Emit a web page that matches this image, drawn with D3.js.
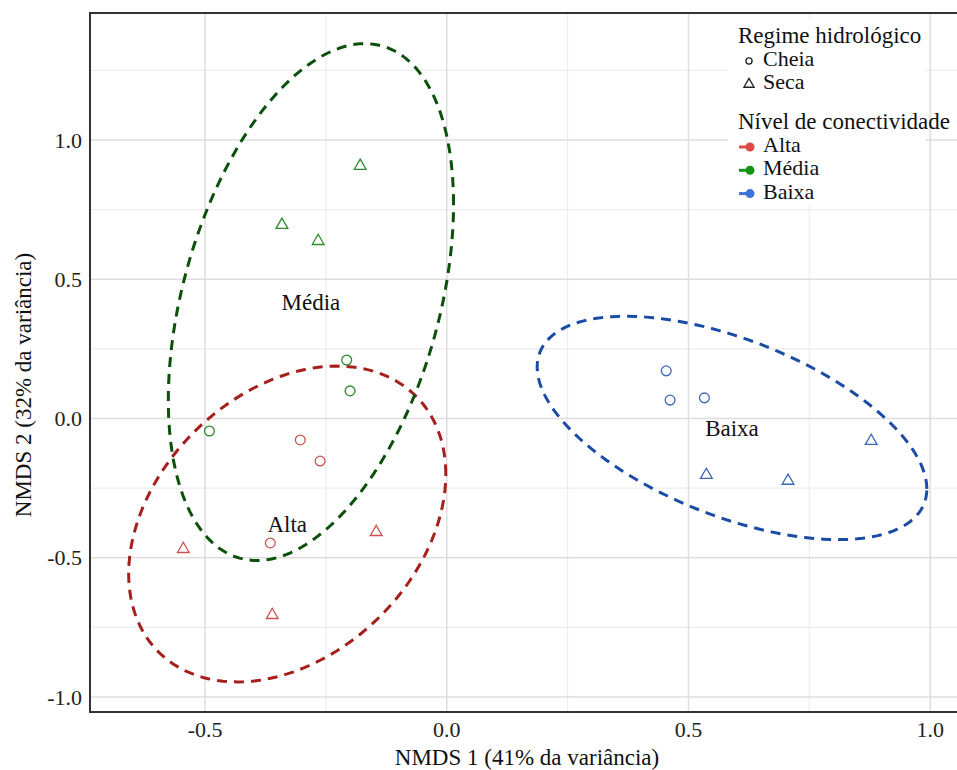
<!DOCTYPE html>
<html lang="pt">
<head>
    <meta charset="UTF-8">
    <title>NMDS</title>
    <style>
        body { margin: 0; background: #fff; }
    </style>
</head>
<body>
<script src="https://d3js.org/d3.v7.min.js"></script>
<script>
    // Scores NMDS
    const nmds1 = [-0.303, -0.262, -0.365, -0.545, -0.146, -0.361,
                   -0.207, -0.200, -0.491, -0.179, -0.341, -0.266,
                    0.454,  0.462,  0.533,  0.878,  0.537,  0.706];
    const nmds2 = [-0.077, -0.153, -0.447, -0.469, -0.408, -0.706,
                    0.210,  0.099, -0.045,  0.907,  0.695,  0.637,
                    0.171,  0.066,  0.074, -0.081, -0.203, -0.224];
    const nivel = ["Alta", "Alta", "Alta", "Alta", "Alta", "Alta",
                   "Média", "Média", "Média", "Média", "Média", "Média",
                   "Baixa", "Baixa", "Baixa", "Baixa", "Baixa", "Baixa"];
    const regime = ["Cheia", "Cheia", "Cheia", "Seca", "Seca", "Seca",
                    "Cheia", "Cheia", "Cheia", "Seca", "Seca", "Seca",
                    "Cheia", "Cheia", "Cheia", "Seca", "Seca", "Seca"];

    // Elipses (centro, desvios e correlação estimados)
    const niveis = ["Alta", "Média", "Baixa"];
    const elCx = [-0.330, -0.281, 0.590];
    const elCy = [-0.379, 0.418, -0.034];
    const elSx = [0.328, 0.295, 0.403];
    const elSy = [0.567, 0.928, 0.401];
    const elR = [0.315, 0.379, -0.546];

    const xTicks = [-0.5, 0.0, 0.5, 1.0];
    const yTicks = [-1.0, -0.5, 0.0, 0.5, 1.0];
    const xMinor = [-0.25, 0.25, 0.75];
    const yMinor = [-0.75, -0.25, 0.25, 0.75, 1.25];

    const pointColor = {"Alta": "#c9534f", "Média": "#2b8a2b", "Baixa": "#3d66b8"};
    const ellipseColor = {"Alta": "#a51f1c", "Média": "#0b500b", "Baixa": "#1a4ca6"};
    const keyColor = {"Alta": "#dc4b48", "Média": "#149414", "Baixa": "#3a74d8"};

    const serif = "'Liberation Serif', 'Times New Roman', 'DejaVu Serif', serif";
    const width = 957, height = 770;
    const panel = {left: 90, right: 965, top: 13, bottom: 712};

    const svg = d3.select("body").append("svg")
        .attr("width", width)
        .attr("height", height)
        .style("font-family", serif);

    const x = d3.scaleLinear().domain([-0.738, 1.072]).range([panel.left, panel.right]);
    const y = d3.scaleLinear().domain([-1.054, 1.456]).range([panel.bottom, panel.top]);

    // Grade
    const grid = svg.append("g");
    grid.selectAll(".vmin").data(xMinor).enter().append("line")
        .attr("x1", d => x(d)).attr("x2", d => x(d))
        .attr("y1", panel.top).attr("y2", panel.bottom)
        .attr("stroke", "#ececec").attr("stroke-width", 1.2);
    grid.selectAll(".hmin").data(yMinor).enter().append("line")
        .attr("x1", panel.left).attr("x2", panel.right)
        .attr("y1", d => y(d)).attr("y2", d => y(d))
        .attr("stroke", "#ececec").attr("stroke-width", 1.2);
    grid.selectAll(".vmaj").data(xTicks).enter().append("line")
        .attr("x1", d => x(d)).attr("x2", d => x(d))
        .attr("y1", panel.top).attr("y2", panel.bottom)
        .attr("stroke", "#dedede").attr("stroke-width", 1.5);
    grid.selectAll(".hmaj").data(yTicks).enter().append("line")
        .attr("x1", panel.left).attr("x2", panel.right)
        .attr("y1", d => y(d)).attr("y2", d => y(d))
        .attr("stroke", "#dedede").attr("stroke-width", 1.5);

    // Elipses
    const line = d3.line().x(d => x(d[0])).y(d => y(d[1])).curve(d3.curveLinearClosed);
    niveis.forEach((g, i) => {
        const pts = d3.range(0, 2 * Math.PI, Math.PI / 90).map(t => [
            elCx[i] + elSx[i] * Math.cos(t),
            elCy[i] + elSy[i] * (elR[i] * Math.cos(t) + Math.sqrt(1 - elR[i] * elR[i]) * Math.sin(t))
        ]);
        svg.append("path")
            .attr("d", line(pts))
            .attr("fill", "none")
            .attr("stroke", ellipseColor[g])
            .attr("stroke-width", 3)
            .attr("stroke-dasharray", "10,7");
    });

    // Pontos
    const idx = d3.range(nmds1.length);
    const tri = d3.symbol().type(d3.symbolTriangle).size(60);
    svg.selectAll(".pt").data(idx).enter().append("path")
        .attr("d", i => regime[i] === "Cheia" ? d3.symbol().type(d3.symbolCircle).size(75)() : tri())
        .attr("transform", i => "translate(" + x(nmds1[i]) + "," + y(nmds2[i]) + ")")
        .attr("fill", "none")
        .attr("stroke", i => pointColor[nivel[i]])
        .attr("stroke-width", 1.3);

    // Rótulos dos grupos
    svg.selectAll(".lab").data(niveis).enter().append("text")
        .attr("x", (d, i) => x(elCx[i]))
        .attr("y", (d, i) => y(elCy[i]))
        .attr("dy", "0.35em")
        .attr("text-anchor", "middle")
        .attr("fill", "#111")
        .style("font-size", "23px")
        .text(d => d);

    // Borda do painel
    svg.append("path")
        .attr("d", "M" + panel.right + "," + panel.top + "H" + panel.left + "V" + panel.bottom + "H" + panel.right)
        .attr("fill", "none")
        .attr("stroke", "#333")
        .attr("stroke-width", 2);

    // Eixos
    svg.selectAll(".xt").data(xTicks).enter().append("text")
        .attr("x", d => x(d)).attr("y", 737)
        .attr("text-anchor", "middle")
        .attr("fill", "#222")
        .style("font-size", "22px")
        .text(d => d3.format(".1f")(d).replace("−", "-"));
    svg.selectAll(".yt").data(yTicks).enter().append("text")
        .attr("x", 82).attr("y", d => y(d))
        .attr("dy", "0.35em")
        .attr("text-anchor", "end")
        .attr("fill", "#222")
        .style("font-size", "22px")
        .text(d => d3.format(".1f")(d).replace("−", "-"));

    svg.append("text")
        .attr("x", 527).attr("y", 765)
        .attr("text-anchor", "middle")
        .attr("fill", "#111")
        .style("font-size", "23px")
        .text("NMDS 1 (41% da variância)");
    svg.append("text")
        .attr("transform", "translate(31,385) rotate(-90)")
        .attr("text-anchor", "middle")
        .attr("fill", "#111")
        .style("font-size", "23px")
        .text("NMDS 2 (32% da variância)");

    // Legenda
    const leg = svg.append("g").attr("fill", "#111");
    leg.append("rect")
        .attr("x", 728).attr("y", 18).attr("width", 198).attr("height", 188)
        .attr("fill", "#fff");
    leg.append("text").attr("x", 738).attr("y", 43).style("font-size", "23px").text("Regime hidrológico");
    regime.filter((d, i, a) => a.indexOf(d) === i).forEach((r, i) => {
        const cy = 61 + i * 23.3;
        leg.append("path")
            .attr("d", r === "Cheia" ? d3.symbol().type(d3.symbolCircle).size(30)() : d3.symbol().type(d3.symbolTriangle).size(45)())
            .attr("transform", "translate(749," + cy + ")")
            .attr("fill", "none").attr("stroke", "#222").attr("stroke-width", 1.3);
        leg.append("text").attr("x", 763).attr("y", cy + 5).style("font-size", "22px").text(r);
    });
    leg.append("text").attr("x", 738).attr("y", 129).style("font-size", "23px").text("Nível de conectividade");
    niveis.forEach((g, i) => {
        const cy = 147 + i * 23.3;
        leg.append("line")
            .attr("x1", 739).attr("x2", 749).attr("y1", cy).attr("y2", cy)
            .attr("stroke", keyColor[g]).attr("stroke-width", 3);
        leg.append("circle")
            .attr("cx", 750).attr("cy", cy).attr("r", 4.5)
            .attr("fill", keyColor[g]);
        leg.append("text").attr("x", 763).attr("y", cy + 5).style("font-size", "22px").text(g);
    });
</script>
</body>
</html>
